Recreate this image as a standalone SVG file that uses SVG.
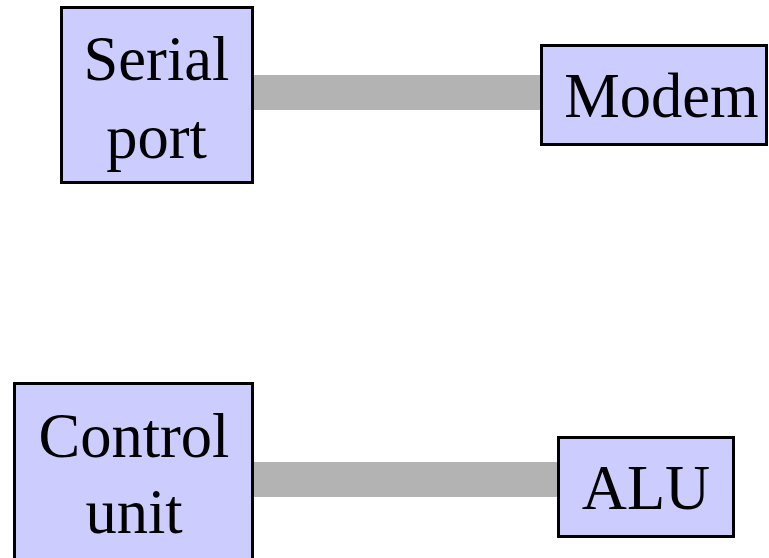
<svg xmlns="http://www.w3.org/2000/svg" width="769" height="558" viewBox="0 0 769 558">
  <style>
    .box { fill: #ccccff; stroke: #000000; stroke-width: 3; }
    .label { font-family: "Liberation Serif", "Times New Roman", serif; font-size: 62.5px; fill: #000000; text-anchor: middle; }
    .link { stroke: #b3b3b3; stroke-width: 35; fill: none; }
  </style>
  <rect width="769" height="558" fill="#ffffff"/>
  <g id="connectors">
    <line class="link" x1="253" y1="92.5" x2="541" y2="92.5"/>
    <line class="link" x1="253" y1="479.5" x2="558" y2="479.5"/>
  </g>
  <g id="serial-port">
    <rect class="box" x="61.5" y="7.5" width="191" height="175"/>
    <text class="label" x="156.5" y="79.5">Serial</text>
    <text class="label" x="156.5" y="158">port</text>
  </g>
  <g id="modem">
    <rect class="box" x="541.5" y="45.5" width="225" height="99"/>
    <text class="label" x="661.5" y="117">Modem</text>
  </g>
  <g id="control-unit">
    <rect class="box" x="14.5" y="383.5" width="238" height="180"/>
    <text class="label" x="134" y="457">Control</text>
    <text class="label" x="134" y="533">unit</text>
  </g>
  <g id="alu">
    <rect class="box" x="558.5" y="437.5" width="175" height="99"/>
    <text class="label" x="646" y="509">ALU</text>
  </g>
</svg>
